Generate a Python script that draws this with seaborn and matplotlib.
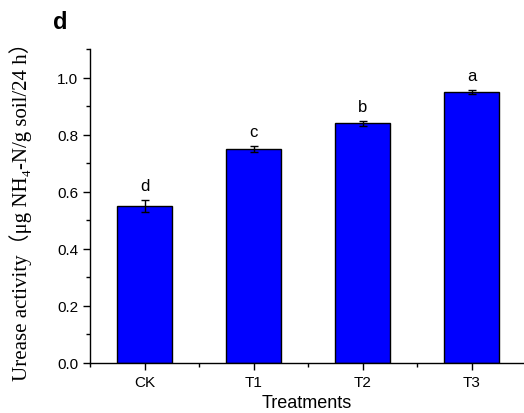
import matplotlib
matplotlib.use("Agg")
import matplotlib.pyplot as plt
import seaborn as sns
import pandas as pd
from matplotlib.ticker import MultipleLocator

categories = ["CK", "T1", "T2", "T3"]
values = [0.55, 0.75, 0.84, 0.95]
errors = [0.02, 0.012, 0.008, 0.008]
letters = ["d", "c", "b", "a"]

df = pd.DataFrame({"Treatments": categories, "value": values})

sns.set_style("ticks")
plt.rcParams['font.family'] = ['Liberation Sans', 'DejaVu Sans']

fig = plt.figure(figsize=(5.24, 4.14), dpi=100)
ax = fig.add_axes([0.172, 0.121, 0.828, 0.758])

sns.barplot(data=df, x="Treatments", y="value", color="#0000FF", saturation=1,
            width=0.5, edgecolor="black", linewidth=1.0, ax=ax, errorbar=None)
ax.errorbar(range(len(categories)), values, yerr=errors, fmt="none",
            ecolor="black", elinewidth=1.0, capsize=3, capthick=1.0)
for i, (v, e, l) in enumerate(zip(values, errors, letters)):
    ax.annotate(l, (i, v + e), xytext=(0, 5), textcoords="offset points",
                ha="center", va="bottom", fontsize=12, color="black")

ax.set_xlim(-0.5, 3.48)
ax.set_ylim(0, 1.1)
ax.yaxis.set_major_locator(MultipleLocator(0.2))
ax.yaxis.set_minor_locator(MultipleLocator(0.1))
ax.set_xticks(range(4))
ax.set_xticks([-0.5, 0.5, 1.5, 2.5], minor=True)
ax.set_xticklabels(categories)
ax.yaxis.set_major_formatter(matplotlib.ticker.FormatStrFormatter('%.1f'))
ax.tick_params(axis="both", which="major", direction="out", length=5, width=1,
               labelsize=11, color="black", labelcolor="black")
ax.tick_params(axis="both", which="minor", direction="out", length=3, width=1, color="black")
for s in ["left", "bottom"]:
    ax.spines[s].set_color("black")
    ax.spines[s].set_linewidth(1.0)
sns.despine(ax=ax)

ax.set_xlabel("Treatments", fontsize=13, color="black")
ax.set_ylabel("Urease activity（μg NH₄-N/g soil/24 h）", fontsize=15, color="black",
              family=['Liberation Serif', 'Noto Sans CJK SC'])
ax.yaxis.set_label_coords(-0.135, 0.5)

fig.text(0.115, 0.945, "d", fontsize=17, fontweight="bold", ha="center", va="center",
         color="black")

fig.savefig("out.png", dpi=100)
